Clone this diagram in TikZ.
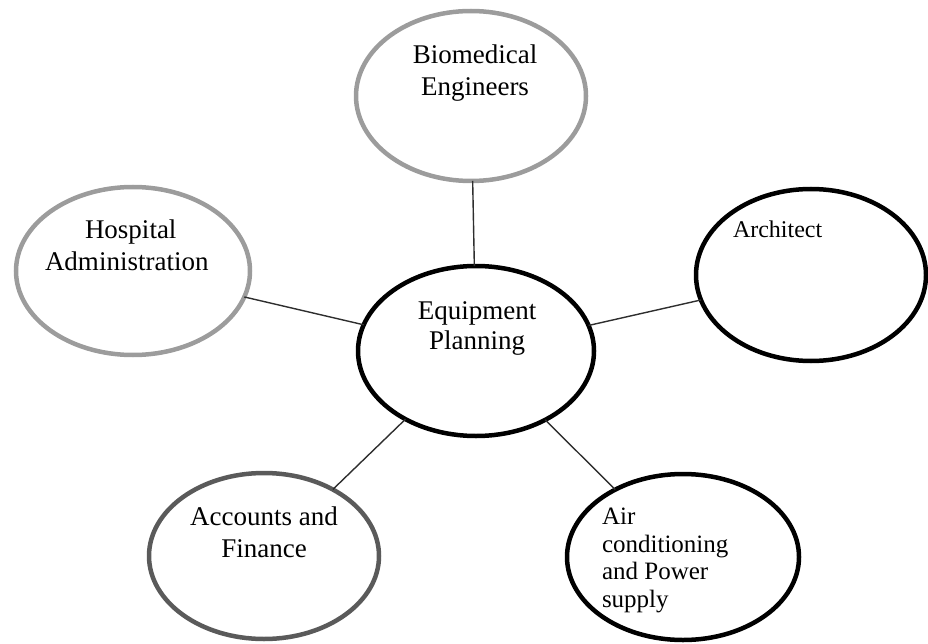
\documentclass[tikz,border=0pt]{standalone}
\usepackage{fontspec}
\setmainfont{Liberation Serif}
\usetikzlibrary{shapes.geometric}
\definecolor{lightring}{HTML}{9C9C9C}
\definecolor{darkring}{HTML}{5A5A5A}
\definecolor{linkgray}{HTML}{2E2E2E}
\tikzset{
  bubble/.style={ellipse, draw=#1, line width=4.5pt, inner sep=0pt, outer sep=0pt},
  bubble/.default=black,
  link/.style={draw=linkgray, line width=1.4pt},
  caption/.style={inner sep=0pt, outer sep=0pt, text=black}
}
\begin{document}
\begin{tikzpicture}[x=1pt,y=-1pt]
  \useasboundingbox (0,0) rectangle (928,644);

  % ring of participants around the central activity
  \node[bubble, minimum width=236pt, minimum height=170pt] (eq) at (476,351) {};
  \node[bubble=lightring, minimum width=230pt, minimum height=170pt] (bio) at (471,96) {};
  \node[bubble=lightring, minimum width=234pt, minimum height=168pt] (hosp) at (133,271) {};
  \node[bubble, minimum width=230pt, minimum height=172pt] (arch) at (811,275) {};
  \node[bubble=darkring, minimum width=230pt, minimum height=166pt] (acct) at (264,556) {};
  \node[bubble, minimum width=232pt, minimum height=166pt] (air) at (683,557) {};

  % spokes
  \draw[link] (bio) -- (eq);
  \draw[link] (hosp) -- (eq);
  \draw[link] (arch) -- (eq);
  \draw[link] (acct) -- (eq);
  \draw[link] (air) -- (eq);

  % labels
  \node[caption, anchor=north, align=center, font=\fontsize{27}{32}\selectfont] (tbio) at (475,45) {Biomedical\\Engineers};
  \node[caption, anchor=north, align=center, font=\fontsize{27}{30}\selectfont] (teq) at (477,302) {Equipment\\Planning};
  \node[caption, anchor=north west, align=left, font=\fontsize{27}{32}\selectfont] (thosp) at (45,220) {\hspace*{40pt}Hospital\\Administration};
  \node[caption, anchor=base west, font=\fontsize{24}{28}\selectfont] (tarch) at (733,238) {Architect};
  \node[caption, anchor=north, align=center, font=\fontsize{27}{32}\selectfont] (tacct) at (264,507) {Accounts and\\Finance};
  \node[caption, anchor=north west, align=left, font=\fontsize{25}{27.5}\selectfont] (tair) at (602,508) {Air\\conditioning\\and Power\\supply};
\end{tikzpicture}
\end{document}
